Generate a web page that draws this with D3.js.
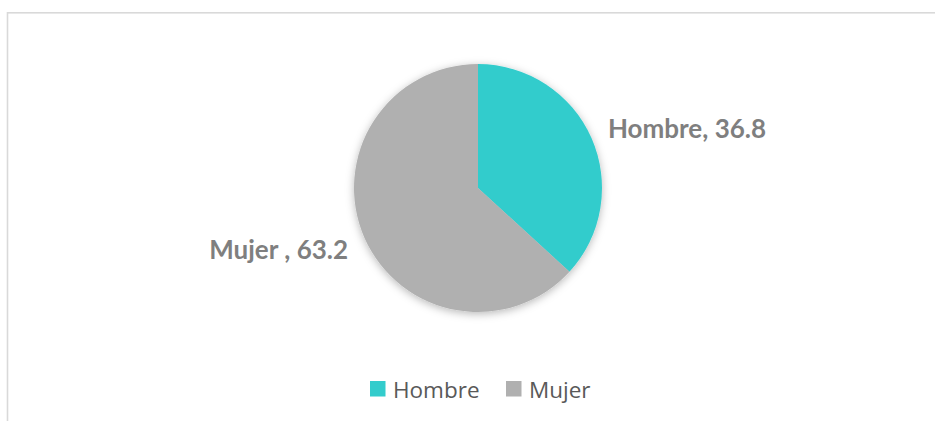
<!DOCTYPE html>
<html>
<head>
<meta charset="utf-8">
<script src="https://cdn.jsdelivr.net/npm/d3@7"></script>
<style>
  body { margin: 0; background: #fff; }
  svg { display: block; }
</style>
</head>
<body>
<svg id="chart" width="935" height="421"></svg>
<script>
const categories = ["Hombre", "Mujer"];
const values = [36.8, 63.2];
const labelTexts = ["Hombre, 36.8", "Mujer , 63.2"];
const colors = ["#33CCCC", "#B0B0B0"];

const width = 935, height = 421;
const center = {x: 478, y: 188};
const radius = 124;

const svg = d3.select('#chart');

// outer frame (only top and left edges visible)
svg.append('rect')
    .attr('x', 7.5)
    .attr('y', 12.8)
    .attr('width', width + 20)
    .attr('height', height + 20)
    .style('fill', 'none')
    .style('stroke', '#D9D9D9')
    .style('stroke-width', 1.6);

const defs = svg.append('defs');
const filter = defs.append('filter')
    .attr('id', 'pieShadow')
    .attr('x', '-20%').attr('y', '-20%')
    .attr('width', '140%').attr('height', '140%');
filter.append('feDropShadow')
    .attr('dx', 0)
    .attr('dy', 2)
    .attr('stdDeviation', 4)
    .attr('flood-color', '#000')
    .attr('flood-opacity', 0.28);

const pie = d3.pie().sort(null).value(d => d.value);
const data = pie(categories.map((c, i) => ({name: c, value: values[i], label: labelTexts[i]})));

const arc = d3.arc().innerRadius(0).outerRadius(radius);
const labelArc = d3.arc().innerRadius(radius + 18).outerRadius(radius + 18);

const colorScale = d3.scaleOrdinal().domain(categories).range(colors);

const isLeft = d => (d.startAngle + d.endAngle) / 2 > Math.PI;

const g = svg.append('g')
    .attr('transform', `translate(${center.x}, ${center.y})`);

g.append('g')
    .attr('filter', 'url(#pieShadow)')
    .selectAll('path')
    .data(data)
    .join('path')
    .attr('d', arc)
    .style('fill', d => colorScale(d.data.name));

g.selectAll('.sliceLabel')
    .data(data)
    .join('text')
    .classed('sliceLabel', true)
    .attr('x', d => labelArc.centroid(d)[0])
    .attr('y', d => labelArc.centroid(d)[1])
    .attr('dy', d => (isLeft(d) ? 4 : -3))
    .style('text-anchor', d => (isLeft(d) ? 'end' : 'start'))
    .style('dominant-baseline', 'central')
    .style('font-family', 'Lato, "Open Sans", sans-serif')
    .style('font-weight', '700')
    .style('font-size', '26px')
    .style('fill', '#7F7F7F')
    .text(d => d.data.label);

// legend
const legend = svg.append('g').attr('transform', 'translate(0, 389)');
const legendX = d3.scaleOrdinal().domain(categories).range([370, 506]);

const items = legend.selectAll('.legendItem')
    .data(categories)
    .join('g')
    .classed('legendItem', true)
    .attr('transform', d => `translate(${legendX(d)}, 0)`);

items.append('rect')
    .attr('x', 0)
    .attr('y', -8)
    .attr('width', 15.5)
    .attr('height', 15.5)
    .style('fill', d => colorScale(d));

items.append('text')
    .attr('x', 23)
    .attr('y', 0)
    .style('dominant-baseline', 'central')
    .style('font-family', '"Open Sans", sans-serif')
    .style('font-size', '22.5px')
    .style('fill', '#595959')
    .text(d => d);
</script>
</body>
</html>
